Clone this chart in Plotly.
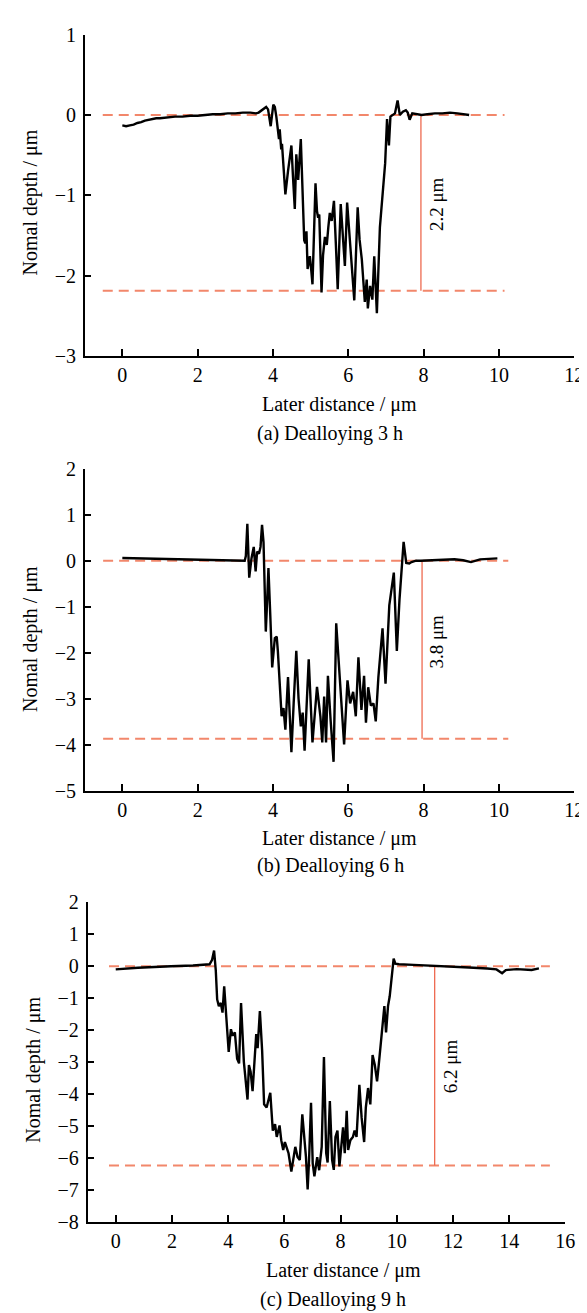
import plotly.graph_objects as go

W, H = 587, 1313

# ---------------- data ----------------
# (a) Dealloying 3 h
xa = [0.00, 0.10, 0.20, 0.30, 0.40, 0.50, 0.60, 0.70, 0.80, 0.90, 1.00, 1.20, 1.40, 1.60, 1.80,
      2.00, 2.20, 2.40, 2.60, 2.80, 3.00, 3.20, 3.40, 3.55, 3.62, 3.70, 3.78, 3.82, 3.87, 3.94,
      4.01, 4.05, 4.09, 4.12, 4.16, 4.18, 4.22, 4.24, 4.27, 4.33, 4.40, 4.49, 4.53, 4.58, 4.62, 4.67,
      4.74, 4.77, 4.83, 4.86, 4.89, 4.92, 4.98, 5.02, 5.05, 5.13, 5.17, 5.20, 5.23, 5.29, 5.33, 5.38,
      5.43, 5.47, 5.51, 5.56, 5.62, 5.67, 5.72, 5.80, 5.86, 5.91, 5.97, 6.04, 6.10, 6.16, 6.25, 6.30,
      6.36, 6.44, 6.49, 6.52, 6.58, 6.64, 6.69, 6.76, 6.84, 6.92, 6.98, 7.03, 7.08, 7.12, 7.18, 7.24,
      7.31, 7.37, 7.45, 7.53, 7.58, 7.63, 7.70, 7.80, 7.95, 8.10, 8.30, 8.50, 8.70, 8.90, 9.10, 9.21]
ya = [-0.13, -0.14, -0.13, -0.12, -0.10, -0.09, -0.07, -0.06, -0.05, -0.04, -0.04, -0.03, -0.02, -0.02, -0.01,
      -0.01, 0.00, 0.01, 0.01, 0.02, 0.02, 0.03, 0.03, 0.02, 0.03, 0.06, 0.09, 0.10, 0.07, -0.14,
      0.13, 0.10, -0.02, -0.18, -0.30, -0.18, -0.43, -0.36, -0.60, -0.99, -0.70, -0.38, -0.75, -1.17, -0.49, -0.81,
      -0.30, -0.79, -1.56, -1.60, -1.45, -1.92, -1.76, -1.95, -2.11, -0.85, -1.20, -1.28, -1.24, -2.21, -1.75, -1.52,
      -1.62, -1.40, -1.22, -1.32, -1.07, -1.60, -2.17, -1.11, -1.55, -1.88, -1.09, -1.56, -1.90, -2.31, -1.15, -1.55,
      -1.80, -2.33, -2.05, -2.41, -2.13, -2.30, -1.76, -2.47, -1.40, -0.95, -0.60, -0.05, -0.38, -0.02, 0.00, 0.02,
      0.18, 0.00, 0.04, 0.06, 0.03, -0.06, 0.02, 0.01, 0.00, 0.01, 0.02, 0.02, 0.03, 0.02, 0.01, 0.00]

# (b) Dealloying 6 h
xb = [0.00, 0.50, 1.00, 1.50, 2.00, 2.50, 3.00, 3.25, 3.28, 3.32, 3.37, 3.43, 3.49, 3.54, 3.58,
      3.63, 3.67, 3.71, 3.75, 3.81, 3.85, 3.88, 3.93, 3.98, 4.05, 4.10, 4.13, 4.18, 4.23, 4.28,
      4.33, 4.40, 4.49, 4.55, 4.62, 4.68, 4.74, 4.79, 4.84, 4.95, 5.00, 5.05, 5.17, 5.26, 5.31, 5.36, 5.41,
      5.46, 5.53, 5.61, 5.68, 5.78, 5.89, 5.98, 6.05, 6.13, 6.20, 6.27, 6.35, 6.42, 6.47, 6.53,
      6.60, 6.67, 6.73, 6.80, 6.91, 6.99, 7.09, 7.21, 7.29, 7.36, 7.47, 7.54, 7.62, 7.68, 7.80,
      7.93, 8.20, 8.50, 8.82, 9.05, 9.26, 9.50, 9.75, 9.96]
yb = [0.06, 0.05, 0.04, 0.02, 0.01, 0.00, -0.01, 0.00, 0.10, 0.80, -0.37, 0.05, 0.30, -0.23, 0.20,
      0.15, 0.30, 0.78, 0.40, -1.54, -0.80, -0.16, -1.20, -2.32, -1.68, -1.65, -1.96, -2.80, -3.38, -3.20,
      -3.67, -2.53, -4.16, -3.10, -1.96, -3.00, -3.60, -3.30, -4.13, -2.14, -3.20, -3.95, -2.74, -3.38, -3.95, -2.95, -3.95,
      -2.50, -3.45, -4.37, -1.36, -2.70, -3.99, -2.60, -3.10, -2.85, -3.38, -2.10, -3.24, -2.50, -3.52, -2.75,
      -3.15, -3.10, -3.49, -2.53, -1.47, -2.67, -0.97, -0.26, -1.96, -0.85, 0.41, -0.05, -0.06, -0.03, 0.00,
      0.00, 0.01, 0.02, 0.03, 0.01, -0.03, 0.03, 0.04, 0.05]

# (c) Dealloying 9 h
xc = [0.00, 0.79, 1.96, 2.75, 3.34, 3.43, 3.50, 3.56, 3.61, 3.67, 3.74, 3.80, 3.86, 3.93, 4.02,
      4.10, 4.16, 4.24, 4.32, 4.39, 4.46, 4.56, 4.65, 4.69, 4.74, 4.80, 4.87, 4.95, 5.00, 5.05,
      5.13, 5.21, 5.28, 5.37, 5.43, 5.50, 5.59, 5.67, 5.73, 5.83, 5.89, 5.96, 6.02, 6.09, 6.15,
      6.25, 6.32, 6.39, 6.47, 6.55, 6.64, 6.72, 6.77, 6.83, 6.88, 6.95, 7.01, 7.07, 7.17, 7.24,
      7.33, 7.41, 7.49, 7.54, 7.62, 7.70, 7.76, 7.82, 7.89, 7.96, 8.02, 8.09, 8.15, 8.22, 8.27,
      8.35, 8.44, 8.50, 8.57, 8.67, 8.75, 8.84, 8.90, 8.98, 9.06, 9.14, 9.22, 9.30, 9.36, 9.43,
      9.49, 9.56, 9.62, 9.69, 9.75, 9.82, 9.89, 9.95, 10.08, 10.60, 11.26, 11.90, 12.57, 13.22, 13.55,
      13.75, 13.88, 14.27, 14.80, 15.06]
yc = [-0.10, -0.05, 0.00, 0.02, 0.06, 0.20, 0.49, -0.12, -1.04, -1.25, -1.15, -1.45, -0.63, -1.56, -2.68,
      -1.97, -2.17, -2.07, -2.89, -3.04, -1.15, -2.99, -3.91, -4.17, -3.09, -3.30, -3.91, -2.78, -2.12, -2.56,
      -1.40, -2.64, -4.32, -4.42, -4.17, -3.96, -5.14, -4.94, -5.34, -4.98, -5.44, -5.75, -5.50, -5.70, -5.85,
      -6.42, -5.97, -5.65, -5.97, -6.06, -4.63, -5.34, -5.97, -6.98, -6.06, -4.27, -6.17, -6.57, -5.97, -6.38,
      -5.65, -2.84, -5.85, -6.14, -4.22, -6.06, -6.37, -5.34, -5.14, -6.26, -5.75, -5.04, -5.85, -4.52, -5.75,
      -5.44, -5.34, -5.14, -5.34, -3.71, -4.73, -5.50, -4.42, -3.81, -4.32, -2.78, -3.09, -3.60, -3.09, -2.48,
      -1.97, -1.25, -2.07, -1.25, -0.94, -0.23, 0.24, 0.08, 0.06, 0.04, 0.02, 0.00, -0.04, -0.07, -0.10,
      -0.22, -0.12, -0.09, -0.12, -0.07]

# reference (dashed) levels and depth markers
ref_top = [0.0, 0.0, 0.0]
ref_bottom = [-2.19, -3.87, -6.23]
ref_x0 = [-0.52, -0.51, -0.24]
ref_x1 = [10.15, 10.25, 15.45]
marker_x = [7.93, 7.96, 11.35]
depth_labels = ["2.2 μm", "3.8 μm", "6.2 μm"]
depth_label_x = [8.33, 8.34, 11.92]
depth_label_y = [-1.11, -1.75, -3.14]
captions = ["(a) Dealloying 3 h", "(b) Dealloying 6 h", "(c) Dealloying 9 h"]
x_ranges = [[-1, 12], [-1, 12], [-1, 16]]
y_ranges = [[-3, 1], [-5, 2], [-8, 2]]

# ---------------- layout helpers (pixel geometry) ----------------
def px(x):
    return x / W

def py(y):
    return 1 - y / H

plot_px = [  # left, right, top, bottom in pixels
    (78.0, 576.0, 16.0, 342.5),
    (78.0, 576.0, 457.3, 785.0),
    (81.0, 567.0, 898.3, 1223.5),
]
xtitle_pos = [(337, 392), (337, 833), (341, 1273)]
caption_pos = [(328, 422), (328, 861), (331, 1302)]
ytitle_pos = [(23, 187), (23, 631), (26, 1069)]

FONT = "Liberation Serif, Times New Roman, serif"
RED = "#F2876B"
RED_SOLID = "#EE6A50"

fig = go.Figure()
series = [(xa, ya), (xb, yb), (xc, yc)]
layout = {}
annotations = []
for i, (xs, ys) in enumerate(series):
    n = "" if i == 0 else str(i + 1)
    xref, yref = "x" + n, "y" + n
    # dashed reference lines
    for lvl in (ref_top[i], ref_bottom[i]):
        fig.add_trace(go.Scatter(x=[ref_x0[i], ref_x1[i]], y=[lvl, lvl], mode="lines",
                                 line=dict(color=RED, width=2, dash="10px,6px"),
                                 xaxis=xref, yaxis=yref, showlegend=False, hoverinfo="skip"))
    # vertical depth marker
    fig.add_trace(go.Scatter(x=[marker_x[i], marker_x[i]], y=[ref_top[i], ref_bottom[i]], mode="lines",
                             line=dict(color=RED_SOLID, width=1.3),
                             xaxis=xref, yaxis=yref, showlegend=False, hoverinfo="skip"))
    # profile
    fig.add_trace(go.Scatter(x=xs, y=ys, mode="lines", line=dict(color="black", width=2.4),
                             xaxis=xref, yaxis=yref, showlegend=False))
    l, r, t, b = plot_px[i]
    common = dict(showline=True, linecolor="black", linewidth=1.5, ticks="inside", ticklen=7,
                  tickwidth=1.5, tickcolor="black", showgrid=False, zeroline=False,
                  tickfont=dict(family=FONT, size=20, color="black"))
    layout["xaxis" + n] = dict(domain=[px(l), px(r)], range=x_ranges[i], dtick=2, tick0=0,
                               anchor=yref, **common)
    layout["yaxis" + n] = dict(domain=[py(b), py(t)], range=y_ranges[i], dtick=1, tick0=0,
                               anchor=xref, ticklabelstandoff=3, **common)
    annotations.append(dict(x=depth_label_x[i], y=depth_label_y[i], xref=xref, yref=yref,
                            text=depth_labels[i], textangle=-90, showarrow=False,
                            font=dict(family=FONT, size=19, color="black")))
    for (tx, ty), txt, ang in ((xtitle_pos[i], "Later distance / μm", 0),
                               (caption_pos[i], captions[i], 0),
                               (ytitle_pos[i], "Nomal depth / μm", -90)):
        annotations.append(dict(x=px(tx), y=py(ty), xref="paper", yref="paper", text=txt,
                                textangle=ang, showarrow=False, xanchor="center", yanchor="middle",
                                font=dict(family=FONT, size=20, color="black")))

fig.update_layout(width=W, height=H, autosize=False, margin=dict(l=0, r=0, t=0, b=0),
                  paper_bgcolor="white", plot_bgcolor="white", showlegend=False,
                  annotations=annotations, **layout)

fig.write_html("out.html")
